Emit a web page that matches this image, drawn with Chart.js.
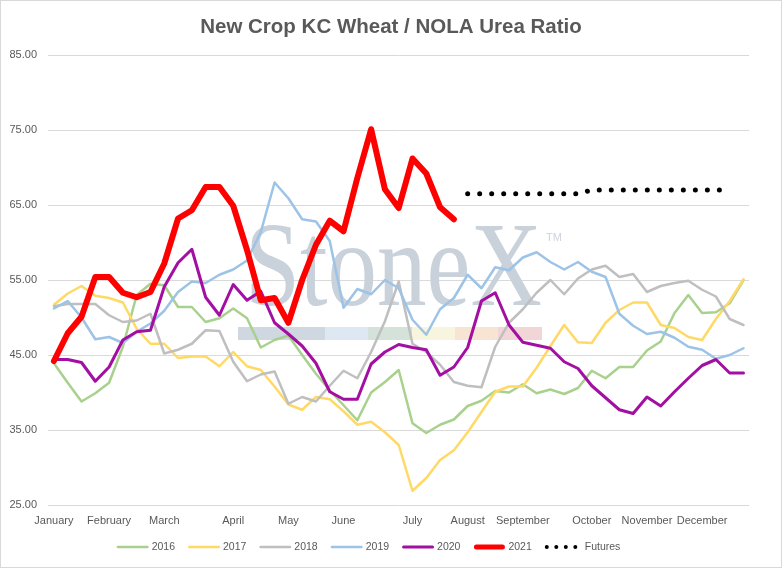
<!DOCTYPE html>
<html>
<head>
<meta charset="utf-8">
<script src="https://cdn.jsdelivr.net/npm/chart.js@4.4.0/dist/chart.umd.min.js"></script>
<style>
  html, body { margin: 0; padding: 0; background: #fff; }
  #wrap { width: 782px; height: 568px; }
</style>
</head>
<body>
<div id="wrap"><canvas id="ratioChart" width="782" height="568"></canvas></div>
<script>
// Weekly points, 51 weeks on the x axis; month labels sit on the first week of each month
const monthNames = ['January', 'February', 'March', 'April', 'May', 'June', 'July', 'August', 'September', 'October', 'November', 'December'];
const monthWeeks = [0, 4, 8, 13, 17, 21, 26, 30, 34, 39, 43, 47];
const yTicks = [25, 35, 45, 55, 65, 75, 85];

const y2016 = [43.9, 41.3, 38.8, 39.9, 41.3, 46.1, 53.0, 54.5, 54.3, 51.4, 51.4, 49.4, 49.9, 51.2, 49.9, 46.0, 47.0, 47.6, 45.0, 42.5,
    40.3, 38.3, 36.3, 40.0, 41.4, 43.0, 35.9, 34.6, 35.7, 36.4, 38.2, 38.9, 40.2, 40.0, 41.1, 39.9, 40.4, 39.8, 40.6, 42.9,
    41.9, 43.4, 43.4, 45.6, 46.8, 50.6, 53.0, 50.6, 50.7, 51.9, 55.0];
const y2017 = [51.7, 53.2, 54.2, 52.9, 52.6, 52.0, 48.5, 46.5, 46.5, 44.6, 44.8, 44.8, 43.5, 45.4, 43.5, 43.0, 40.8, 38.4, 37.7, 39.4,
    39.1, 37.5, 35.7, 36.1, 34.7, 33.0, 26.9, 28.6, 31.0, 32.3, 34.7, 37.4, 40.1, 40.8, 40.8, 43.3, 46.2, 49.0, 46.7, 46.6,
    49.3, 51.0, 52.0, 52.0, 49.0, 48.6, 47.4, 47.0, 49.8, 52.2, 55.1];
const y2018 = [51.5, 51.8, 51.8, 51.8, 50.3, 49.4, 49.6, 50.5, 45.2, 45.7, 46.5, 48.3, 48.2, 44.1, 41.5, 42.4, 42.8, 38.5, 39.4, 38.8,
    40.9, 42.9, 41.9, 45.4, 49.5, 54.8, 46.5, 45.4, 43.7, 41.4, 40.9, 40.7, 46.1, 49.3, 51.1, 53.3, 55.0, 53.1, 55.2, 56.4,
    56.9, 55.4, 55.8, 53.4, 54.2, 54.6, 54.9, 53.7, 52.8, 49.8, 49.0];
const y2019 = [51.2, 52.2, 50.0, 47.1, 47.4, 46.6, 48.1, 49.2, 50.9, 53.4, 54.8, 54.6, 55.7, 56.4, 57.6, 61.4, 68.0, 65.9, 63.1, 62.8,
    60.2, 51.3, 53.8, 53.1, 55.0, 53.9, 49.7, 47.7, 51.1, 52.6, 55.7, 53.9, 56.7, 56.3, 58.0, 58.7, 57.4, 56.4, 57.4, 56.1,
    55.4, 50.5, 48.9, 47.8, 48.1, 47.3, 46.1, 45.7, 44.5, 45.0, 45.9];
const y2020 = [44.4, 44.4, 44.0, 41.5, 43.4, 47.0, 48.1, 48.3, 54.1, 57.3, 59.1, 52.7, 50.3, 54.4, 52.3, 53.5, 49.3, 47.8, 46.2, 43.9,
    40.1, 39.1, 39.1, 43.8, 45.4, 46.4, 46.0, 45.7, 42.3, 43.4, 46.0, 52.2, 53.3, 49.0, 46.7, 46.3, 45.9, 44.1, 43.2, 40.9,
    39.3, 37.7, 37.2, 39.4, 38.2, 40.1, 41.9, 43.6, 44.4, 42.6, 42.6];
const y2021 = [44.2, 47.9, 50.1, 55.4, 55.4, 53.3, 52.7, 53.4, 57.2, 63.2, 64.3, 67.4, 67.4, 64.9, 59.0, 52.3, 52.6, 49.3, 55.0, 59.7,
    62.9, 61.5, 68.6, 75.1, 67.1, 64.6, 71.2, 69.2, 64.7, 63.1];
const futuresStart = 30;
const futures = [66.5, 66.5, 66.5, 66.5, 66.5, 66.5, 66.5, 66.5, 66.5, 67.0, 67.0, 67.0, 67.0, 67.0, 67.0, 67.0, 67.0, 67.0, 67.0, 67.0];

const FONT = '"Liberation Sans", Arial, sans-serif';
const TEXT_GRAY = '#595959';

const toPoints = (arr, start = 0) => arr.map((v, i) => ({ x: start + i, y: v }));

const yearLine = (label, data, color, width, order) => ({
    label: label,
    data: toPoints(data),
    borderColor: color,
    backgroundColor: color,
    borderWidth: width,
    pointRadius: 0,
    tension: 0,
    borderJoinStyle: 'round',
    borderCapStyle: 'round',
    order: order
});

// Faded "StoneX" mark behind the lines
const watermarkPlugin = {
    id: 'stonexMark',
    beforeDatasetsDraw: (chart) => {
        const { ctx } = chart;
        ctx.save();
        ctx.fillStyle = '#c9d1db';
        ctx.font = '120px "Liberation Serif", serif';
        ctx.textBaseline = 'alphabetic';
        const w = ctx.measureText('StoneX').width;
        ctx.translate(245, 305);
        ctx.scale(297 / w, 1);
        ctx.fillText('StoneX', 0, 0);
        ctx.restore();

        ctx.save();
        ctx.fillStyle = '#cdd4dd';
        ctx.font = '11px ' + FONT;
        ctx.fillText('TM', 546, 241);

        const barColors = ['#cfd7e0', '#dde8f2', '#d5e2d9', '#f8f5de', '#f8e4d2', '#f1d5d7'];
        const edges = [238, 325, 368, 412, 455, 498, 542];
        barColors.forEach((c, i) => {
            ctx.fillStyle = c;
            ctx.fillRect(edges[i], 327, edges[i + 1] - edges[i], 13);
        });
        ctx.restore();
    }
};

// Title, bottom legend and the thin outer frame
const decorPlugin = {
    id: 'decor',
    afterDraw: (chart) => {
        const { ctx } = chart;
        ctx.save();
        ctx.fillStyle = TEXT_GRAY;
        ctx.font = 'bold 20.5px ' + FONT;
        ctx.textAlign = 'center';
        ctx.textBaseline = 'alphabetic';
        ctx.fillText('New Crop KC Wheat / NOLA Urea Ratio', 391, 33);

        ctx.font = '10.5px ' + FONT;
        ctx.textAlign = 'left';
        ctx.textBaseline = 'middle';
        const lineLen = 32, gap = 3, itemGap = 13;
        const sets = chart.data.datasets;
        const widths = sets.map(ds => lineLen + gap + ctx.measureText(ds.label).width);
        const total = widths.reduce((a, b) => a + b, 0) + itemGap * (sets.length - 1);
        let x = 366 - total / 2;
        const ly = 547;
        sets.forEach((ds, i) => {
            ctx.save();
            ctx.strokeStyle = ds.borderColor;
            ctx.lineCap = 'round';
            if (ds.borderDash) {
                ctx.setLineDash([0.01, 9.5]);
                ctx.lineWidth = 4;
                ctx.beginPath();
                ctx.moveTo(x + 2, ly);
                ctx.lineTo(x + lineLen + 1, ly);
            } else {
                ctx.lineWidth = Math.min(ds.borderWidth, 5);
                ctx.beginPath();
                ctx.moveTo(x + ds.borderWidth / 2, ly);
                ctx.lineTo(x + lineLen - ds.borderWidth / 2, ly);
            }
            ctx.stroke();
            ctx.restore();
            ctx.fillStyle = TEXT_GRAY;
            ctx.fillText(ds.label, x + lineLen + gap + (ds.borderDash ? 5 : 0), ly + 0.5);
            x += widths[i] + itemGap;
        });

        ctx.strokeStyle = '#d9d9d9';
        ctx.lineWidth = 1;
        ctx.strokeRect(0.5, 0.5, chart.width - 1, chart.height - 1);
        ctx.restore();
    }
};

const ctx = document.getElementById('ratioChart').getContext('2d');
const ratioChart = new Chart(ctx, {
    type: 'line',
    data: {
        datasets: [
            yearLine('2016', y2016, '#a9d18e', 2.5, 7),
            yearLine('2017', y2017, '#ffd966', 2.5, 6),
            yearLine('2018', y2018, '#bfbfbf', 2.5, 5),
            yearLine('2019', y2019, '#9dc3e6', 2.5, 4),
            yearLine('2020', y2020, '#a30fa3', 3, 3),
            yearLine('2021', y2021, '#ff0000', 6, 2),
            {
                label: 'Futures',
                data: toPoints(futures, futuresStart),
                borderColor: '#000000',
                backgroundColor: '#000000',
                borderWidth: 5,
                borderDash: [0.01, 12],
                borderCapStyle: 'round',
                pointRadius: 0,
                tension: 0,
                order: 1
            }
        ]
    },
    options: {
        responsive: false,
        animation: false,
        events: [],
        layout: { padding: { top: 55, right: 33, bottom: 33, left: 0 } },
        plugins: {
            legend: { display: false },
            title: { display: false },
            tooltip: { enabled: false }
        },
        scales: {
            x: {
                type: 'linear',
                min: -0.43,
                max: 50.4,
                afterBuildTicks: (axis) => { axis.ticks = monthWeeks.map(v => ({ value: v })); },
                afterFit: (axis) => { axis.height = 30; },
                grid: { display: false, drawTicks: false },
                border: { display: false },
                ticks: {
                    autoSkip: false,
                    maxRotation: 0,
                    padding: 9,
                    color: TEXT_GRAY,
                    font: { family: FONT, size: 11 },
                    callback: (v) => monthNames[monthWeeks.indexOf(v)] || ''
                }
            },
            y: {
                min: 25,
                max: 85,
                afterBuildTicks: (axis) => { axis.ticks = yTicks.map(v => ({ value: v })); },
                afterFit: (axis) => { axis.width = 48; },
                grid: { color: '#d9d9d9', drawTicks: false },
                border: { display: false },
                ticks: {
                    padding: 11,
                    color: TEXT_GRAY,
                    font: { family: FONT, size: 11 },
                    callback: (v) => v.toFixed(2)
                }
            }
        }
    },
    plugins: [watermarkPlugin, decorPlugin]
});
</script>
</body>
</html>
